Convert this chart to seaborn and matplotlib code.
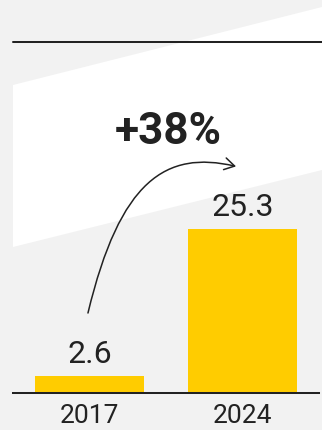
import matplotlib
matplotlib.use("Agg")
import matplotlib.pyplot as plt
from matplotlib.patches import Polygon, FancyArrowPatch
from matplotlib.path import Path
from matplotlib.lines import Line2D
import seaborn as sns

# Data
years = ["2017", "2024"]
values = [2.6, 25.3]
value_labels = ["2.6", "25.3"]
growth_label = "+38%"

BG = "#f2f2f2"
BAR = "#ffcc00"
INK = "#222222"

sns.set_theme(style="white")
plt.rcParams["font.family"] = ["Roboto", "DejaVu Sans"]

W, H = 322, 430
fig = plt.figure(figsize=(W / 100, H / 100), dpi=100, facecolor=BG)

# Diagonal white band behind the chart
band = Polygon([(13 / W, 1 - 85 / H), (1.0, 1 - 7 / H), (1.0, 1 - 170 / H), (13 / W, 1 - 247 / H)],
               closed=True, transform=fig.transFigure, facecolor="white", edgecolor="none", zorder=-5)
fig.patches.append(band)

# Thin rule across the top
fig.lines.append(Line2D([13 / W, 1.0], [1 - 42 / H, 1 - 42 / H], transform=fig.transFigure,
                        color=INK, linewidth=1.45, zorder=-4))

ax = fig.add_axes([13 / W, 1 - 392.5 / H, (319 - 13) / W, (392.5 - 42) / H])
ax.set_zorder(2)
ax.set_facecolor("none")

sns.barplot(x=years, y=values, color=BAR, saturation=1, width=0.71, linewidth=0, ax=ax, zorder=2)

ax.set_xlim(-0.5, 1.5)
ax.set_ylim(0, 54.1)

for s in ["top", "left", "right"]:
    ax.spines[s].set_visible(False)
ax.spines["bottom"].set_color(INK)
ax.spines["bottom"].set_linewidth(1.45)
ax.set_yticks([])
ax.set_xlabel("")
ax.set_ylabel("")
ax.tick_params(axis="x", length=0, pad=8, labelsize=19, labelcolor=INK)

# Value labels above bars
for i, (v, lab) in enumerate(zip(values, value_labels)):
    ax.annotate(lab, xy=(i, v), xytext=(0, 9), textcoords="offset points",
                ha="center", va="baseline", fontsize=23, color=INK)

# Growth arrow from the 2017 label up to the 2024 label
verts = [(-0.01, 12.27), (0.199, 32.8), (0.5, 37.4), (0.958, 34.9)]
codes = [Path.MOVETO, Path.CURVE4, Path.CURVE4, Path.CURVE4]
arrow = FancyArrowPatch(path=Path(verts, codes), arrowstyle="->,head_length=0.72,head_width=0.43",
                        mutation_scale=10, color=INK, linewidth=1.1, transform=ax.transData)
ax.add_patch(arrow)

ax.text(0.513, 38.35, growth_label, ha="center", va="baseline", fontsize=31.7,
        fontweight="bold", color=INK)

fig.savefig("out.png", dpi=100, facecolor=BG)
